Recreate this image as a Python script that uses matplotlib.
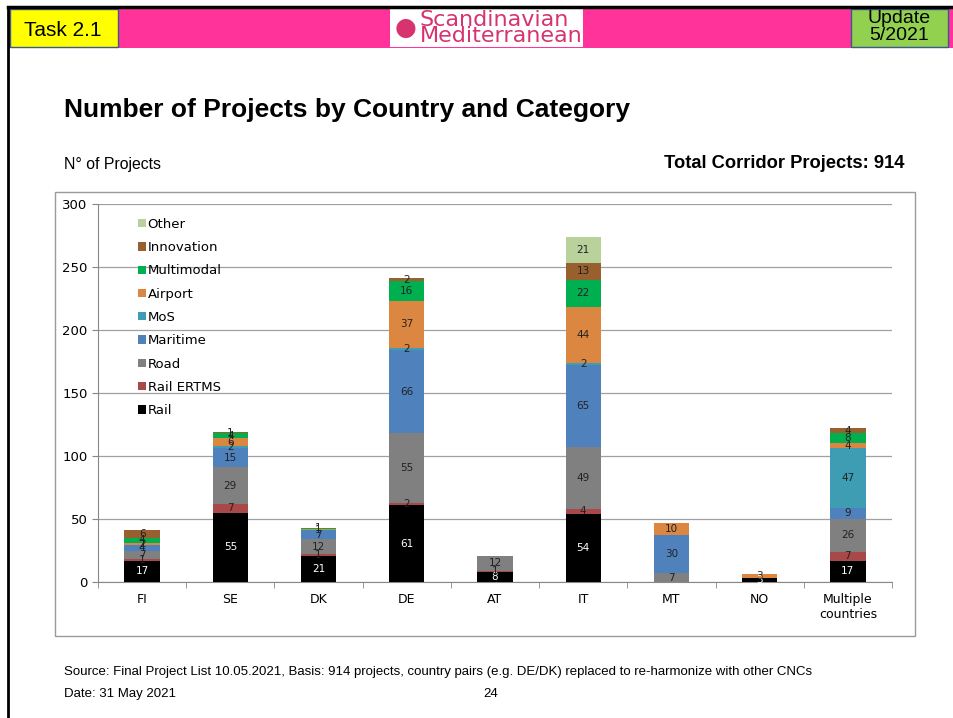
import matplotlib
matplotlib.use("Agg")
import matplotlib.pyplot as plt
from matplotlib.patches import Rectangle
import numpy as np

# Datos
paises = ["FI", "SE", "DK", "DE", "AT", "IT", "MT", "NO", "Multiple\ncountries"]
categorias = ["Rail", "Rail ERTMS", "Road", "Maritime", "MoS",
              "Airport", "Multimodal", "Innovation", "Other"]
rail = [17, 55, 21, 61, 8, 54, 0, 3, 17]
rail_ertms = [1, 7, 1, 2, 1, 4, 0, 0, 7]
road = [7, 29, 12, 55, 12, 49, 7, 0, 26]
maritime = [4, 15, 7, 66, 0, 65, 30, 0, 9]
mos = [0, 2, 0, 2, 0, 2, 0, 0, 47]
airport = [2, 6, 1, 37, 0, 44, 10, 3, 4]
multimodal = [4, 4, 1, 16, 0, 22, 0, 0, 8]
innovation = [6, 1, 0, 2, 0, 13, 0, 0, 4]
other = [0, 0, 0, 0, 0, 21, 0, 0, 0]
yticks = [0, 50, 100, 150, 200, 250, 300]

series = [rail, rail_ertms, road, maritime, mos, airport, multimodal, innovation, other]
colores = ["#000000", "#A84848", "#808080", "#4F81BD", "#3F9DB3",
           "#DC8741", "#00B050", "#98602F", "#B9D19B"]

W, H = 954, 718
fig = plt.figure(figsize=(W / 100, H / 100), dpi=100)


def caja(x0, y0, x1, y1, **kw):
    """Rectángulo en píxeles (origen arriba a la izquierda)."""
    fig.patches.append(Rectangle((x0 / W, 1 - y1 / H), (x1 - x0) / W, (y1 - y0) / H,
                                 transform=fig.transFigure, figure=fig, **kw))


def texto(x, y, s, **kw):
    fig.text(x / W, 1 - y / H, s, **kw)


# Cabecera
caja(8, 8, 954, 48, facecolor="#FF3399", edgecolor="none")
fig.add_artist(plt.Line2D([8 / W, 1], [1 - 7 / H, 1 - 7 / H], color="black", lw=2.5))
fig.add_artist(plt.Line2D([8 / W, 8 / W], [0, 1 - 7 / H], color="black", lw=2))
caja(10, 9, 118, 47, facecolor="#FFFF00", edgecolor="#3C5A8A", lw=1)
texto(63, 30, "Task 2.1", ha="center", va="center", fontsize=15, family="Liberation Sans")
caja(851, 9, 948, 47, facecolor="#92D050", edgecolor="#3C5A8A", lw=1)
texto(899, 27, "Update\n5/2021", ha="center", va="center", fontsize=14,
      family="Liberation Sans", linespacing=0.95)
caja(390, 9, 583, 47, facecolor="white", edgecolor="none")
texto(406, 28, "●", ha="center", va="center", fontsize=18, color="#D6336F")
texto(420, 28, "Scandinavian\nMediterranean", ha="left", va="center", fontsize=16,
      color="#D6336F", family="Liberation Sans Narrow", linespacing=0.75)

# Títulos
texto(64, 110, "Number of Projects by Country and Category", fontsize=19,
      fontweight="bold", va="center", family="Liberation Sans")
texto(64, 164, "N° of Projects", fontsize=11.4, va="center", family="Liberation Sans")
texto(905, 164, "Total Corridor Projects: 914", fontsize=13.2, fontweight="bold",
      va="center", ha="right", family="Liberation Sans")

# Marco del gráfico
caja(55, 192, 915, 636, facecolor="none", edgecolor="#9A9A9A", lw=1)

ax = fig.add_axes([98 / W, (H - 582) / H, (892 - 98) / W, (582 - 204) / H])
x = np.arange(len(paises))
base = np.zeros(len(paises))
handles = []
for nombre, valores, color in zip(categorias, series, colores):
    v = np.array(valores, dtype=float)
    barras = ax.bar(x, v, 0.4, bottom=base, color=color, label=nombre, zorder=3)
    handles.append(barras)
    for xi, vi, bi in zip(x, v, base):
        if vi > 0:
            ax.text(xi, bi + vi / 2, f"{int(vi)}", ha="center", va="center",
                    fontsize=7.5, color="white" if nombre == "Rail" else "#222222",
                    zorder=4)
    base += v

ax.set_xlim(-0.5, len(paises) - 0.5)
ax.set_ylim(0, 300)
ax.set_yticks(yticks)
ax.set_xticks(x)
ax.set_xticklabels(paises, fontsize=9)
ax.tick_params(axis="y", labelsize=9.5, length=4, color="#888888")
ax.tick_params(axis="x", length=0, pad=8)
ax.set_xticks(np.arange(-0.5, len(paises), 1.0), minor=True)
ax.tick_params(axis="x", which="minor", length=4, color="#888888")
ax.grid(axis="y", color="#A0A0A0", lw=0.9, zorder=0)
for lado in ["top", "right"]:
    ax.spines[lado].set_visible(False)
ax.spines["left"].set_color("#888888")
ax.spines["bottom"].set_color("#888888")

leg = ax.legend(handles[::-1], categorias[::-1], loc="upper left",
                bbox_to_anchor=(0.035, 0.995), frameon=False, fontsize=9.5,
                handlelength=0.6, handleheight=0.6, handletextpad=0.15,
                labelspacing=0.78)

# Pie
texto(64, 672, "Source: Final Project List 10.05.2021, Basis: 914 projects, country pairs "
      "(e.g. DE/DK) replaced to re-harmonize with other CNCs", fontsize=9.5,
      va="center", family="Liberation Sans")
texto(64, 694, "Date: 31 May 2021", fontsize=9.5, va="center", family="Liberation Sans")
texto(491, 694, "24", fontsize=9.5, va="center", ha="center", family="Liberation Sans")

fig.savefig("out.png", dpi=100)
plt.close(fig)
